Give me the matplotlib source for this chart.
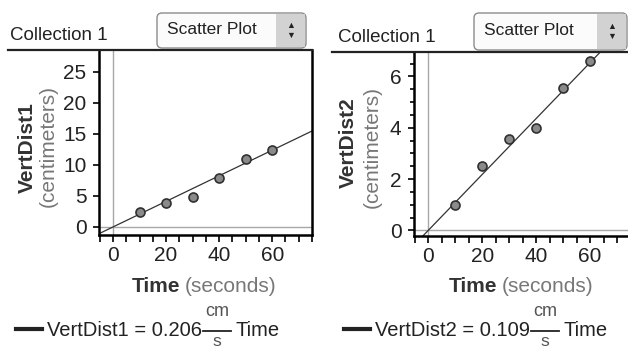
import matplotlib
matplotlib.use('Agg')
import matplotlib.pyplot as plt
from matplotlib.patches import FancyBboxPatch, Rectangle
from matplotlib.ticker import MultipleLocator

plt.rcParams.update({
    'font.family': 'Liberation Sans',
    'font.size': 12,
})

# data
time = [10, 20, 30, 40, 50, 60]
vert1 = [2.4, 3.9, 4.8, 7.9, 10.9, 12.4]
vert2 = [1.0, 2.5, 3.55, 4.0, 5.55, 6.6]
slope1 = 0.206
slope2 = 0.109
names = ['VertDist1', 'VertDist2']

W, H = 628, 350
fig = plt.figure(figsize=(W / 100, H / 100), dpi=100)
fig.patch.set_facecolor('white')

# axes boxes in pixels: (left, top, right, bottom)
boxes = [(99, 50, 312, 235), (414, 52, 632, 236)]
limits = [((-5.3, 75), (-1.3, 28.5)), ((-5.3, 75.5), (-0.22, 6.95))]
yticks = [[0, 5, 10, 15, 20, 25], [0, 2, 4, 6]]
yminor = [5, 0.5]

axes = []
for i, (l, t, r, b) in enumerate(boxes):
    ax = fig.add_axes([l / W, 1 - b / H, (r - l) / W, (b - t) / H])
    axes.append(ax)
    ax.set_xlim(*limits[i][0])
    ax.set_ylim(*limits[i][1])
    ax.axvline(0, color='#a8a8a8', lw=1, zorder=1)
    ax.axhline(0, color='#a8a8a8', lw=1, zorder=1)
    ax.set_xticks([0, 20, 40, 60])
    ax.xaxis.set_minor_locator(MultipleLocator(5))
    ax.set_yticks(yticks[i])
    ax.yaxis.set_minor_locator(MultipleLocator(yminor[i]))
    ax.tick_params(which='both', direction='out', width=1.2, labelsize=15,
                   labelcolor='#222222')
    ax.tick_params(axis='x', which='both', length=5, pad=3)
    ax.tick_params(axis='y', which='major', length=4, pad=5)
    ax.tick_params(axis='y', which='minor', length=3)
    ax.spines['top'].set_visible(False)
    for s in ['left', 'bottom', 'right']:
        ax.spines[s].set_linewidth(1.8)

for ax, y, k in zip(axes, [vert1, vert2], [slope1, slope2]):
    x0, x1 = ax.get_xlim()
    ax.plot([x0, x1], [k * x0, k * x1], color='#333333', lw=0.9, zorder=2)
    ax.scatter(time, y, s=42, facecolor='#8a8a8a', edgecolor='#303030',
               linewidth=1.2, zorder=3)

# overlay in pixel coordinates for headers, labels, equations
ov = fig.add_axes([0, 0, 1, 1])
ov.set_xlim(0, W)
ov.set_ylim(H, 0)
ov.axis('off')
ov.patch.set_alpha(0)

panels = [
    dict(x0=8, line_y=50, line_end=312, coll=(10, 35), box=(157, 306, 13, 48),
         ylab=(27, 148, 48, 146), tx=(180, 185), eq=16, slope=slope1),
    dict(x0=332, line_y=52, line_end=628, coll=(338, 37), box=(474, 627, 13, 50),
         ylab=(348, 143, 372, 147), tx=(497, 502), eq=344, slope=slope2),
]

renderer = fig.canvas.get_renderer()

for name, p in zip(names, panels):
    ov.plot([p['x0'], p['line_end']], [p['line_y'], p['line_y']], color='#222222', lw=1.6)
    ov.text(p['coll'][0], p['coll'][1], 'Collection 1', fontsize=13.5,
            va='center', ha='left', color='#222222')
    bx0, bx1, by0, by1 = p['box']
    ov.add_patch(FancyBboxPatch((bx0, by0), bx1 - bx0, by1 - by0,
                                boxstyle='round,pad=0,rounding_size=5',
                                facecolor='#fbfbfb', edgecolor='#8c8c8c', lw=1))
    ov.add_patch(Rectangle((bx1 - 30, by0 + 1), 29, by1 - by0 - 2,
                           facecolor='#d2d2d2', edgecolor='none'))
    cy = (by0 + by1) / 2
    ov.text(bx0 + 10, cy - 1, 'Scatter Plot', fontsize=12.5, va='center', ha='left',
            color='#222222')
    ov.text(bx1 - 15, cy - 5, '\u25b2', fontsize=6.5, va='center', ha='center', color='#222222')
    ov.text(bx1 - 15, cy + 5, '\u25bc', fontsize=6.5, va='center', ha='center', color='#222222')

    # y-axis label: bold name and grey unit
    ov.text(p['ylab'][0], p['ylab'][1], name, rotation=90, fontsize=15, fontweight='bold',
            va='center', ha='center', color='#333333')
    ov.text(p['ylab'][2], p['ylab'][3], '(centimeters)', rotation=90, fontsize=15,
            va='center', ha='center', color='#777777')

    # x-axis label
    ov.text(p['tx'][0], 286, 'Time', fontsize=15, fontweight='bold', va='center',
            ha='right', color='#333333')
    ov.text(p['tx'][1], 286, '(seconds)', fontsize=15, va='center',
            ha='left', color='#777777')

    # equation line: dash, text, stacked cm / s fraction, Time
    ov.plot([p['eq'], p['eq'] + 26], [329, 329], color='#222222', lw=3)
    t = ov.text(p['eq'] + 31, 330, '%s = %.3f' % (name, p['slope']),
                fontsize=14.5, va='center', ha='left', color='#222222')
    x_end = t.get_window_extent(renderer).x1
    num = ov.text(x_end + 3, 312, 'cm', fontsize=13, va='center', ha='left',
                  color='#555555')
    nw = num.get_window_extent(renderer).width
    ov.plot([x_end + 1, x_end + nw + 5], [331, 331], color='#222222', lw=1.3)
    ov.text(x_end + 3 + nw / 2, 341, 's', fontsize=12.5, va='center', ha='center',
            color='#555555')
    ov.text(x_end + nw + 9, 330, 'Time', fontsize=14.5, va='center', ha='left',
            color='#222222')

fig.savefig('out.png', dpi=100)
